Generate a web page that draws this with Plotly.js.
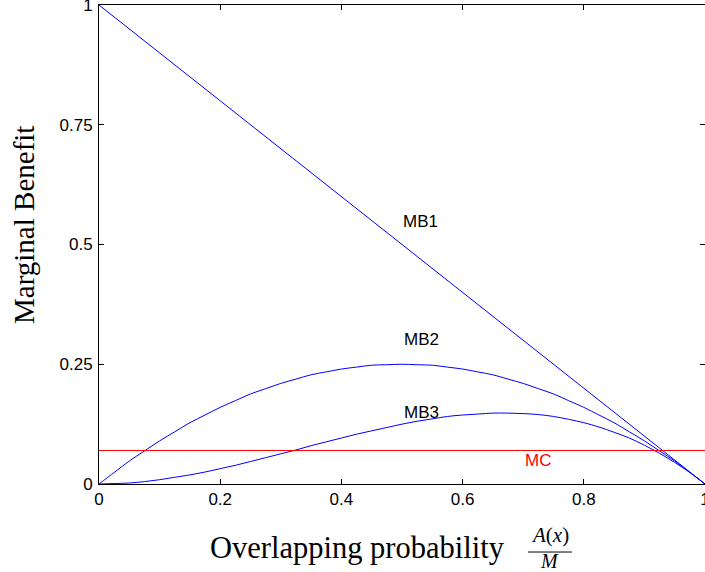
<!DOCTYPE html>
<html>
<head>
<meta charset="utf-8">
<script src="https://cdn.plot.ly/plotly-3.0.1.min.js"></script>
<style>html,body{margin:0;padding:0;background:#fff;}#chart{width:705px;height:572px;}</style>
</head>
<body>
<div id="chart"></div>
<script>
// Data
var xLine = [0, 1];
var mb1 = [1, 0];
var xCurve = [0, 0.025, 0.05, 0.075, 0.1, 0.125, 0.15, 0.175, 0.2, 0.225, 0.25, 0.275, 0.3, 0.325, 0.35, 0.375, 0.4, 0.425, 0.45, 0.475, 0.5,
              0.525, 0.55, 0.575, 0.6, 0.625, 0.65, 0.675, 0.7, 0.725, 0.75, 0.775, 0.8, 0.825, 0.85, 0.875, 0.9, 0.925, 0.95, 0.975, 1];
var mb2 = [0, 0.024, 0.048, 0.069, 0.09, 0.109, 0.128, 0.144, 0.16, 0.174, 0.188, 0.199, 0.21, 0.219, 0.228, 0.234, 0.24, 0.244, 0.248, 0.249, 0.25,
           0.249, 0.248, 0.244, 0.24, 0.234, 0.228, 0.219, 0.21, 0.199, 0.188, 0.174, 0.16, 0.144, 0.128, 0.109, 0.09, 0.069, 0.048, 0.024, 0];
var mb3 = [0, 0.001, 0.002, 0.005, 0.009, 0.014, 0.019, 0.025, 0.032, 0.039, 0.047, 0.055, 0.063, 0.071, 0.08, 0.088, 0.096, 0.104, 0.111, 0.118, 0.125,
           0.131, 0.136, 0.141, 0.144, 0.146, 0.148, 0.148, 0.147, 0.145, 0.141, 0.135, 0.128, 0.119, 0.108, 0.096, 0.081, 0.064, 0.045, 0.024, 0];
var mc = [0.07, 0.07];

var xTickVals = [0, 0.2, 0.4, 0.6, 0.8, 1];
var xTickText = ['0', '0.2', '0.4', '0.6', '0.8', '1'];
var yTickVals = [0, 0.25, 0.5, 0.75, 1];
var yTickText = ['0', '0.25', '0.5', '0.75', '1'];

var curveLabels = ['MB1', 'MB2', 'MB3', 'MC'];
var labelX = [0.53, 0.532, 0.532, 0.725];
var labelY = [0.548, 0.301, 0.149, 0.05];

var blue = '#0000ff', red = '#ff0000';
var traces = [
  {x: xLine, y: mb1, mode: 'lines', line: {color: blue, width: 1}, hoverinfo: 'skip'},
  {x: xCurve, y: mb2, mode: 'lines', line: {color: blue, width: 1, shape: 'spline'}, hoverinfo: 'skip'},
  {x: xCurve, y: mb3, mode: 'lines', line: {color: blue, width: 1, shape: 'spline'}, hoverinfo: 'skip'},
  {x: xLine, y: mc, mode: 'lines', line: {color: red, width: 1}, hoverinfo: 'skip'}
];

var serif = 'Liberation Serif, DejaVu Serif, serif';
var sans = 'Liberation Sans, Arial, sans-serif';
var annotations = curveLabels.map(function (t, i) {
  return {x: labelX[i], y: labelY[i], xref: 'x', yref: 'y', text: t, showarrow: false,
          xanchor: 'center', yanchor: 'middle',
          font: {family: sans, size: 17, color: t === 'MC' ? red : '#000'}};
});
annotations.push(
  {x: 0.4266, y: -0.133, xref: 'paper', yref: 'paper', text: 'Overlapping probability', showarrow: false,
   xanchor: 'center', yanchor: 'middle', font: {family: serif, size: 30.5, color: '#000'}},
  {x: 0.7442, y: -0.107, xref: 'paper', yref: 'paper', text: '<i>A</i>(<i>x</i>)', showarrow: false,
   xanchor: 'center', yanchor: 'middle', font: {family: serif, size: 21, color: '#000'}},
  {x: 0.7442, y: -0.161, xref: 'paper', yref: 'paper', text: '<i>M</i>', showarrow: false,
   xanchor: 'center', yanchor: 'middle', font: {family: serif, size: 20, color: '#000'}},
  {x: -0.1238, y: 0.5407, xref: 'paper', yref: 'paper', text: 'Marginal Benefit', showarrow: false, textangle: -90,
   xanchor: 'center', yanchor: 'middle', font: {family: serif, size: 29, color: '#000'}}
);

var axisCommon = {
  range: [0, 1], showgrid: false, zeroline: false, showline: true, linecolor: '#000', linewidth: 1,
  mirror: 'ticks', ticks: 'inside', ticklen: 5, tickwidth: 1, tickcolor: '#000',
  ticklabeloverflow: 'allow',
  tickfont: {family: sans, size: 17, color: '#000'}, fixedrange: true
};

var layout = {
  width: 705, height: 572,
  margin: {l: 99, r: 0, t: 5, b: 88, pad: 0},
  paper_bgcolor: '#fff', plot_bgcolor: '#fff',
  showlegend: false,
  xaxis: Object.assign({}, axisCommon, {tickmode: 'array', tickvals: xTickVals, ticktext: xTickText}),
  yaxis: Object.assign({}, axisCommon, {tickmode: 'array', tickvals: yTickVals, ticktext: yTickText, ticklabelstandoff: 2}),
  annotations: annotations,
  shapes: [{type: 'line', xref: 'paper', yref: 'paper', x0: 0.708, x1: 0.7805, y0: -0.142, y1: -0.142,
            line: {color: '#000', width: 1}}]
};

Plotly.newPlot('chart', traces, layout, {staticPlot: true, displayModeBar: false});
</script>
</body>
</html>
